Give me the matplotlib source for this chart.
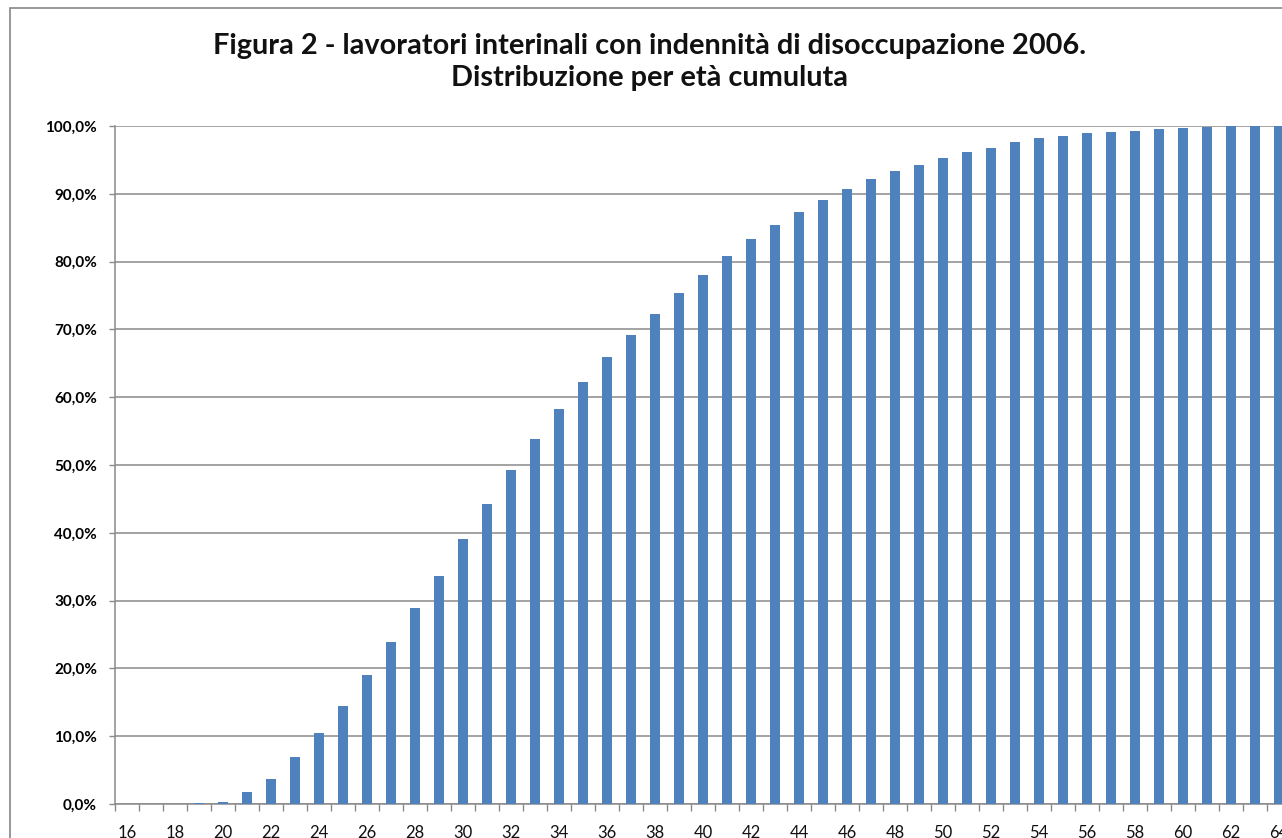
import matplotlib
matplotlib.use("Agg")
import matplotlib.pyplot as plt
from matplotlib.ticker import FixedLocator, FuncFormatter
from matplotlib.patches import Rectangle

ages = list(range(16, 65))
cumulative_pct = [
    0.0, 0.0, 0.0, 0.1, 0.35, 1.8, 3.7, 6.9, 10.5, 14.4,
    19.0, 23.9, 28.9, 33.6, 39.1, 44.2, 49.3, 53.8, 58.3, 62.2,
    65.9, 69.2, 72.3, 75.4, 78.0, 80.8, 83.3, 85.4, 87.3, 89.1,
    90.7, 92.2, 93.4, 94.3, 95.3, 96.2, 96.8, 97.6, 98.2, 98.5,
    99.0, 99.1, 99.3, 99.6, 99.7, 99.9, 100.0, 100.0, 100.0,
]
title = "Figura 2 - lavoratori interinali con indennità di disoccupazione 2006.\nDistribuzione per età cumuluta"

W, H = 1282, 838
fig = plt.figure(figsize=(W / 100, H / 100), dpi=100)
fig.patch.set_facecolor("white")

# outer chart border
fig.patches.append(Rectangle((10 / W, -0.05), 1.2, (838 - 8) / H + 0.05,
                             transform=fig.transFigure, fill=False,
                             edgecolor="#868686", linewidth=1.2))

left, right = 115 / W, 1291 / W
bottom, top = (H - 804) / H, (H - 126) / H
ax = fig.add_axes([left, bottom, right - left, top - bottom])

x = list(range(len(ages)))
ax.bar(x, [v / 100 for v in cumulative_pct], width=0.45, color="#4F81BD", zorder=3)

ax.set_xlim(-0.5, len(ages) - 0.5)
ax.set_ylim(0, 1.0)

ax.set_yticks([i / 10 for i in range(11)])
ax.yaxis.set_major_formatter(FuncFormatter(lambda v, p: f"{v*100:.1f}%".replace(".", ",")))
ax.grid(axis="y", color="#8a8a8a", linewidth=1.1, zorder=0)
ax.set_axisbelow(True)

ax.set_xticks(x[::2])
ax.set_xticklabels([str(a) for a in ages[::2]])
ax.xaxis.set_minor_locator(FixedLocator([i - 0.5 for i in range(len(ages) + 1)]))
ax.tick_params(axis="x", which="major", length=0, pad=15, labelsize=12, labelcolor="#111111")
ax.tick_params(axis="x", which="minor", length=5, width=1, color="#8a8a8a")
ax.tick_params(axis="y", which="major", length=4, width=1, color="#8a8a8a", pad=9, labelsize=11)
for lbl in ax.get_yticklabels():
    lbl.set_fontweight("bold")
    lbl.set_family("Lato")
for lbl in ax.get_xticklabels():
    lbl.set_family("Lato")

for s in ["top", "right"]:
    ax.spines[s].set_visible(False)
ax.spines["left"].set_color("#8a8a8a")
ax.spines["bottom"].set_color("#8a8a8a")
ax.spines["left"].set_linewidth(1.1)
ax.spines["bottom"].set_linewidth(1.1)

fig.text(650 / W, 1 - 62 / H, title, ha="center", va="center", fontsize=20.8,
         fontweight="bold", family="Lato", linespacing=1.32, color="#111111")

fig.savefig("out.png", dpi=100, facecolor="white")
